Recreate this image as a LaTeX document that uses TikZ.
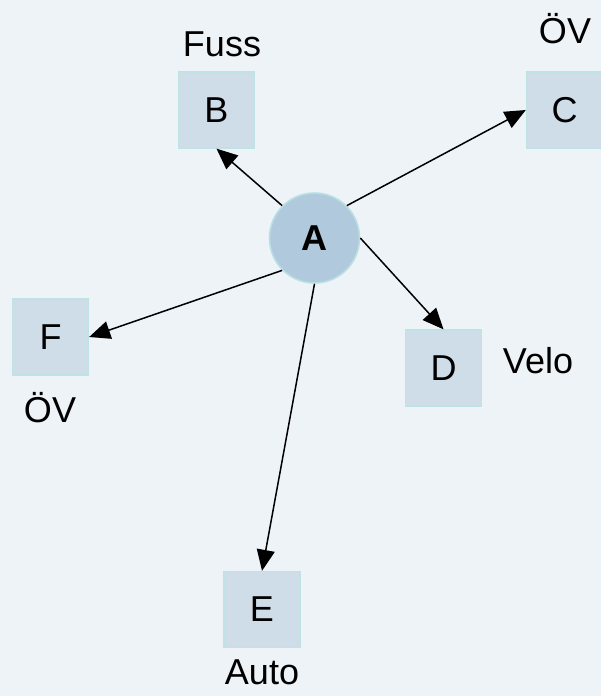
\documentclass[tikz,border=0pt]{standalone}
\usepackage{fontspec}
\setmainfont{Liberation Sans}
\usetikzlibrary{arrows.meta}
\definecolor{bgc}{HTML}{EEF3F8}
\definecolor{boxfill}{HTML}{CFDDE9}
\definecolor{boxline}{HTML}{BFE2E3}
\definecolor{circfill}{HTML}{B1C9DC}
\definecolor{circline}{HTML}{B8E0E3}
\tikzset{
  box/.style={draw=boxline, fill=boxfill, line width=1.3pt, minimum size=76pt, inner sep=0pt, font=\fontsize{36}{42}\selectfont},
  hub/.style={circle, draw=circline, fill=circfill, line width=1.6pt, minimum size=90pt, inner sep=0pt, font=\fontsize{36}{42}\selectfont\bfseries},
  lbl/.style={inner sep=0pt, font=\fontsize{36}{42}\selectfont},
  conn/.style={line width=1.5pt, -{Triangle[length=21pt,width=18pt]}}
}
\begin{document}
\begin{tikzpicture}[x=1pt,y=-1pt]
\useasboundingbox (0,0) rectangle (601,696);
\fill[bgc] (0,0) rectangle (601,696);
\node[hub] (A) at (314.5,238) {A};
\node[box] (B) at (216.5,110) {B};
\node[box] (C) at (564.5,110) {C};
\node[box] (D) at (443.5,368) {D};
\node[box] (E) at (262,609.5) {E};
\node[box] (F) at (50.5,337) {F};
\node[lbl] (lB) at (222,44) {Fuss};
\node[lbl] (lC) at (565,29) {ÖV};
\node[lbl] (lF) at (50,408) {ÖV};
\node[lbl] (lD) at (538,361) {Velo};
\node[lbl] (lE) at (262,672) {Auto};
\draw[conn] (A.135) -- (B.south);
\draw[conn] (A.45) -- (C.west);
\draw[conn] (A.east) -- (D.north);
\draw[conn] (A.south) -- (E.north);
\draw[conn] (A.225) -- (F.east);
\end{tikzpicture}
\end{document}
